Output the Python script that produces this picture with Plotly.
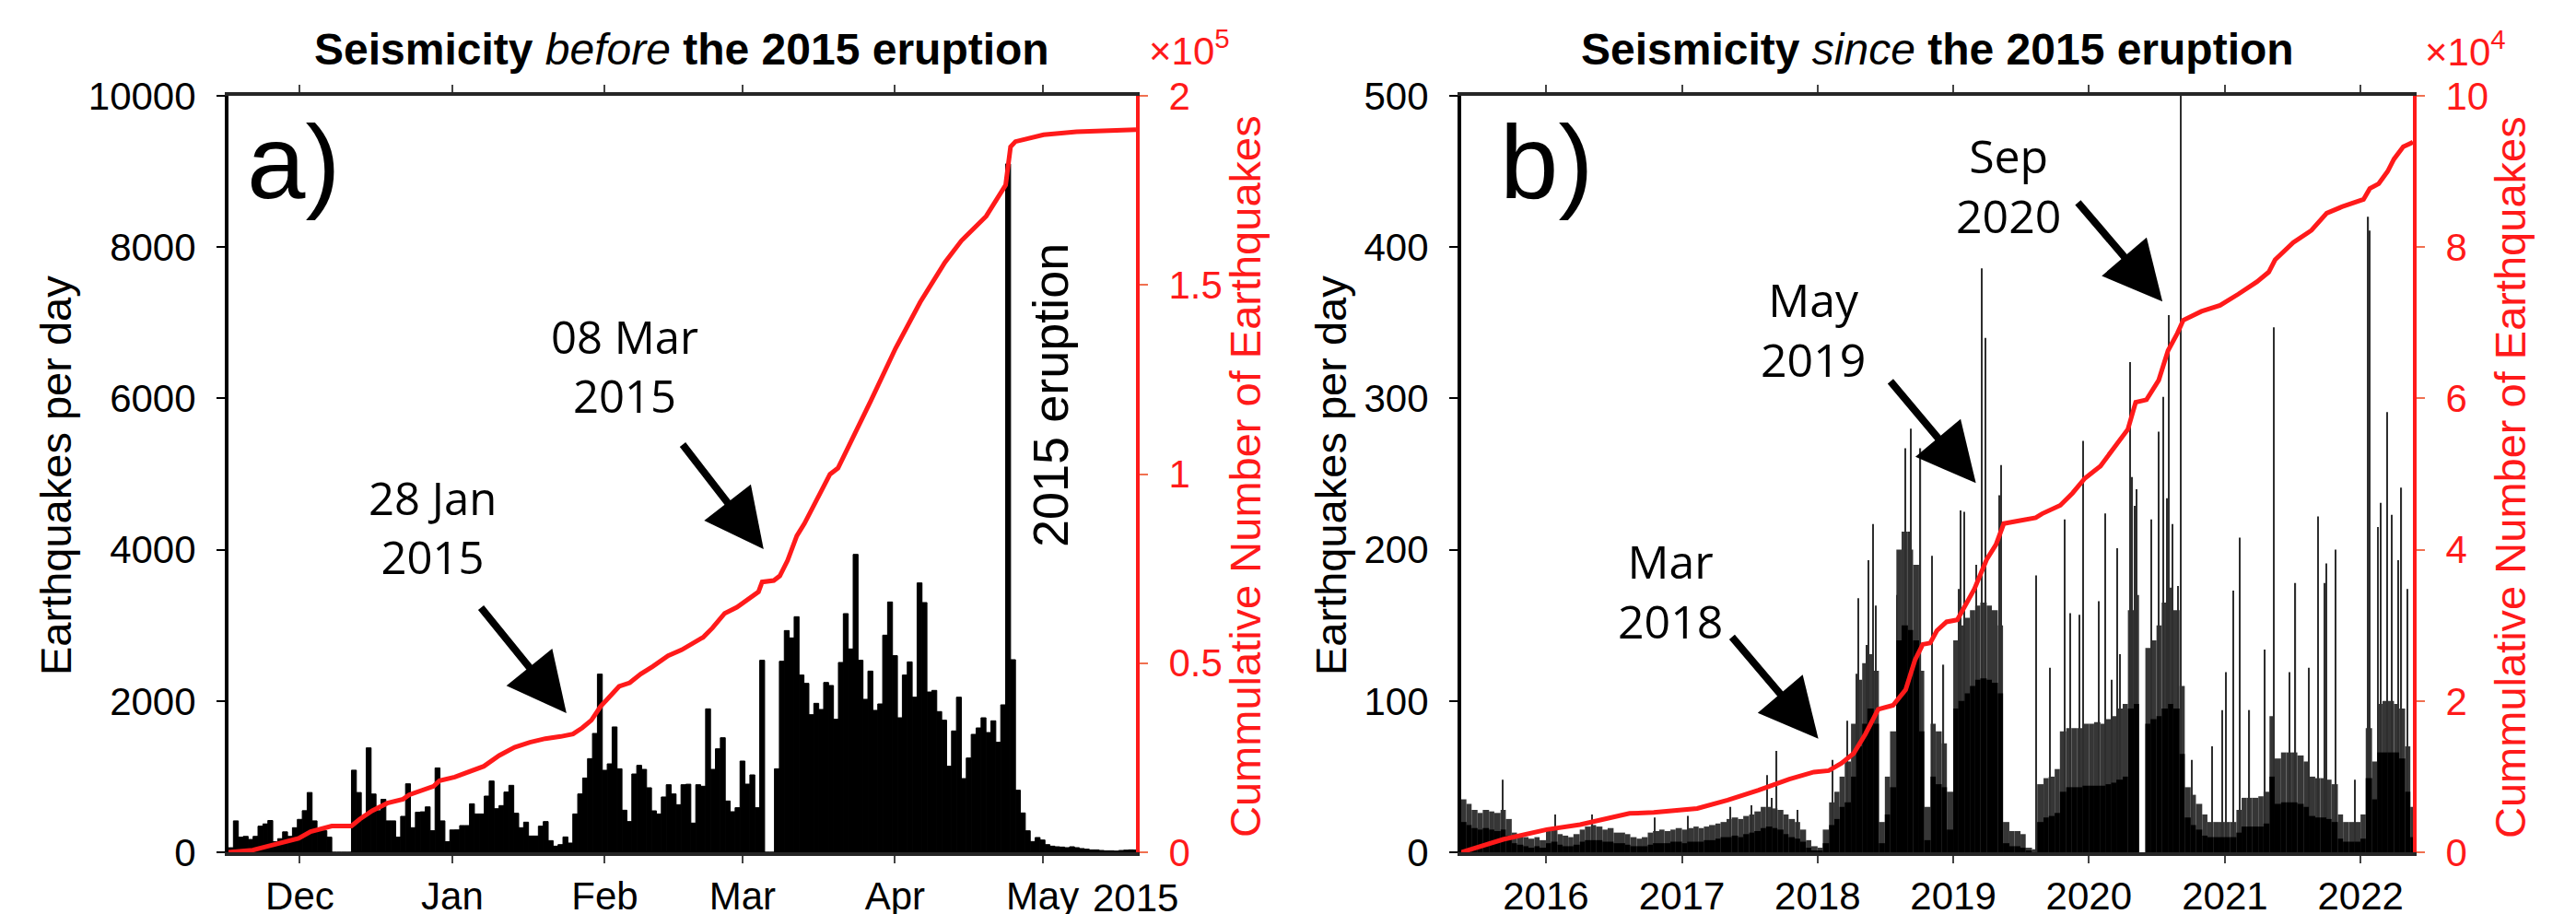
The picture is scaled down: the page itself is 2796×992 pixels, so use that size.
import plotly.graph_objects as go
import pandas as pd

W, H = 2796, 992
RED = "#ff1a1a"
ARIAL = "Liberation Sans, Arial, sans-serif"
MYRIAD = "Open Sans, sans-serif"

# ---------------- Panel a : before the 2015 eruption ----------------
a_first_day = "2014-11-17"
a_daily = [60, 415, 200, 210, 170, 210, 345, 375, 420, 140, 180, 270, 210, 325, 435, 550, 790, 415, 285, 285,
           200, 0, 0, 0, 0, 1085, 790, 470, 1380, 770, 550, 700, 415, 415, 200, 475, 905, 325, 530, 535,
           600, 285, 1115, 415, 140, 295,
           296, 353, 353, 641, 507, 507, 743, 942, 576, 617, 796, 885, 516, 325, 398, 215, 215, 345, 406, 154,
           81, 101, 203, 122, 507, 771, 982, 1238, 1571, 2355, 1084, 1169, 1657, 1104, 556, 406, 1035, 1149, 1096, 853,
           548, 507, 731, 893, 771, 629, 893,
           900, 386, 893, 873, 1896, 1096, 1368, 1514, 678, 536, 589, 1206, 901, 1023, 589, 2538, 0, 0, 1104, 2525,
           2931, 2834, 3114, 2343, 2233, 1819, 1969, 1888, 2245, 2205, 1758, 2509, 3155, 2688, 3938, 2538, 2022, 2395, 1876, 1961,
           2870, 3309, 2599, 1778, 2343, 2517,
           2050, 3561, 3301, 2119, 2140, 1860, 1746, 1137, 1604, 2050, 974, 1246, 1559, 1644, 1778, 1583, 1738, 1454, 1949, 9100,
           2546, 820, 520, 284, 142, 195, 162, 101, 81, 73, 69, 61, 73, 61, 49, 41, 32, 32, 24, 20,
           20, 16, 24, 28, 32, 30]

a_cum_dates = ["2014-11-16 12:00", "2014-11-21 10:00", "2014-11-25 02:00", "2014-11-30 18:00", "2014-12-03 05:00",
               "2014-12-07 12:00", "2014-12-11 12:00", "2014-12-13 05:00", "2014-12-15 17:00", "2014-12-18 19:00",
               "2014-12-22 00:00", "2014-12-23 05:00", "2014-12-28 05:00", "2014-12-29 10:00", "2015-01-01 12:00",
               "2015-01-04 07:00", "2015-01-07 10:00", "2015-01-10 13:00", "2015-01-13 16:00", "2015-01-16 19:00",
               "2015-01-19 22:00", "2015-01-23 01:00", "2015-01-25 13:00", "2015-01-27 10:00", "2015-01-29 07:00",
               "2015-01-31 04:00", "2015-02-02 00:00", "2015-02-03 22:00", "2015-02-06 02:00", "2015-02-08 07:00",
               "2015-02-10 18:00", "2015-02-13 21:00", "2015-02-16 15:00", "2015-02-18 12:00", "2015-02-21 00:00",
               "2015-02-22 21:00", "2015-02-25 09:00", "2015-02-27 21:00", "2015-03-01 18:00", "2015-03-04 06:00",
               "2015-03-05 00:00", "2015-03-07 09:00", "2015-03-08 14:00", "2015-03-10 04:00", "2015-03-12 01:00",
               "2015-03-13 14:00", "2015-03-18 19:00", "2015-03-20 10:00", "2015-03-27 03:00", "2015-04-01 03:00",
               "2015-04-06 03:00", "2015-04-11 04:00", "2015-04-14 12:00", "2015-04-19 13:00", "2015-04-23 12:00",
               "2015-04-24 12:00", "2015-04-25 12:00", "2015-05-01 05:00", "2015-05-07 22:00", "2015-05-20 00:00"]
a_cum_vals = [0, 570, 1790, 3650, 5440, 6950, 6950, 8770, 10960, 12990,
              14050, 15180, 17460, 18920, 19900, 21110, 22740, 25580, 27770, 29070,
              30040, 30610, 31260, 32890, 34920, 38570, 41010, 43850, 44820, 47100,
              49130, 51970, 53500, 54970, 56840, 59280, 63180, 64800, 66580, 68860,
              71460, 71860, 73080, 77140, 83640, 86890, 99950, 101580, 119440, 133250,
              145430, 155980, 161680, 168170, 176400, 186500, 187900, 189690, 190500, 191060]

a_month_ticks = ["2014-12-01", "2015-01-01", "2015-02-01", "2015-03-01", "2015-04-01", "2015-05-01"]
a_month_labels = ["Dec", "Jan", "Feb", "Mar", "Apr", "May"]

# ---------------- Panel b : since the 2015 eruption ----------------
# half-month periods starting 2015-05-15 (1st / 15th of each month)
b_first_period = "2015-05-15"
b_envelope = [35, 32, 28, 26, 28, 27, 26, 28, 22, 13, 11, 10, 9, 10, 8,
              14, 16, 12, 11, 10, 12, 15, 17, 18, 17, 15, 16, 13, 13, 12, 10, 9, 10, 13, 14, 15, 14, 15, 16,
              15, 16, 17, 16, 17, 18, 19, 20, 22, 23, 22, 24, 25, 27, 30, 30, 29, 28, 25, 22, 20, 15, 8, 4,
              3, 15, 33, 40, 50, 60, 85, 114, 125, 131, 120, 20, 50, 80, 200, 212, 200, 190, 120, 30, 85, 80, 72, 40,
              140, 150, 155, 160, 163, 165, 163, 160, 150, 20, 14, 14, 12, 3, 2, 45, 49, 50, 55, 80, 82, 82, 82, 85,
              85, 86, 85, 88, 90, 95, 98, 160, 170, 0, 135, 140, 150, 165, 175, 160, 110, 43, 38, 32, 25, 20, 20, 20,
              20, 20, 28, 36, 36, 36, 37, 40, 90, 62, 66, 66, 66, 64, 60, 50, 49, 49, 48, 45, 25, 20, 20, 20,
              25, 82, 60, 98, 100, 100, 98, 95, 70, 30]
b_core = [20, 18, 16, 15, 16, 15, 14, 15, 11, 6, 5, 4, 3, 4, 3,
          6, 7, 5, 4, 4, 5, 7, 8, 8, 8, 7, 7, 6, 6, 5, 4, 4, 4, 5, 6, 6, 6, 7, 7,
          6, 7, 7, 7, 8, 8, 9, 10, 10, 11, 10, 12, 13, 14, 16, 17, 16, 15, 12, 10, 9, 7, 3, 1,
          1, 6, 18, 22, 30, 33, 50, 70, 85, 95, 85, 6, 25, 43, 140, 150, 147, 140, 80, 8, 50, 45, 43, 15,
          95, 100, 105, 110, 114, 115, 114, 112, 105, 6, 4, 4, 3, 1, 0, 20, 23, 24, 26, 40, 43, 43, 43, 44,
          44, 44, 44, 45, 46, 48, 50, 95, 98, 0, 85, 88, 90, 95, 98, 95, 65, 23, 18, 15, 11, 10, 10, 10,
          10, 10, 13, 17, 17, 17, 17, 19, 50, 32, 33, 33, 33, 32, 30, 24, 23, 23, 22, 20, 9, 7, 7, 7,
          9, 49, 35, 66, 66, 66, 66, 62, 40, 10]

b_spike_dates = ["2015-09-07", "2016-01-26", "2016-05-04", "2016-10-19", "2017-01-17", "2017-05-12", "2017-07-06",
                 "2017-08-19", "2017-08-30", "2017-09-13", "2017-11-07", "2018-02-10", "2018-03-22", "2018-04-17",
                 "2018-04-21", "2018-05-12", "2018-05-18", "2018-05-31", "2018-06-07", "2018-08-03", "2018-08-26",
                 "2018-09-04", "2018-09-10", "2018-10-05", "2018-11-05", "2018-12-06", "2019-01-16", "2019-01-21",
                 "2019-01-30", "2019-03-04", "2019-03-19", "2019-03-28", "2019-05-05", "2019-05-09", "2019-08-12",
                 "2019-09-19", "2019-10-27", "2019-11-12", "2019-12-06", "2019-12-17", "2020-01-28", "2020-02-14",
                 "2020-03-02", "2020-03-18", "2020-03-25", "2020-04-20", "2020-04-27", "2020-05-03", "2020-05-08",
                 "2020-06-17", "2020-07-06", "2020-07-20", "2020-07-30", "2020-08-04", "2020-08-13", "2020-08-27",
                 "2020-09-05", "2020-10-04", "2020-11-28", "2020-12-24", "2021-01-03", "2021-01-23", "2021-02-10",
                 "2021-03-08", "2021-04-19", "2021-05-12", "2021-06-24", "2021-07-10", "2021-08-14", "2021-09-08",
                 "2021-09-26", "2021-10-01", "2021-10-26", "2021-12-16", "2022-01-22", "2022-01-25", "2022-02-16",
                 "2022-02-25", "2022-03-14", "2022-03-25", "2022-04-13", "2022-04-21", "2022-05-07"]
b_spike_vals = [48, 25, 25, 23, 24, 30, 31,
                51, 36, 67, 28, 61, 87, 118,
                168, 137, 193, 217, 163, 170, 267,
                212, 280, 267, 196, 124, 174, 226,
                225, 190, 386, 340, 236, 256, 183,
                122, 220, 158, 157, 272, 166, 224,
                114, 201, 131, 324, 248, 229, 240,
                220, 278, 301, 234, 355, 217, 176,
                520, 61, 70, 94, 119, 173, 208,
                94, 134, 347, 119, 178, 122, 222,
                178, 191, 200, 48, 420, 411, 215,
                231, 291, 223, 193, 241, 174]

b_cum_dates = ["2015-05-18", "2015-09-08", "2016-01-03", "2016-04-02", "2016-08-13", "2016-10-17", "2017-02-11",
               "2017-05-04", "2017-07-26", "2017-10-17", "2017-12-22", "2018-01-31", "2018-03-06", "2018-04-08",
               "2018-05-10", "2018-06-13", "2018-07-23", "2018-08-26", "2018-09-20", "2018-10-11", "2018-10-31",
               "2018-11-18", "2018-12-14", "2019-01-12", "2019-02-27", "2019-04-01", "2019-04-26", "2019-05-17",
               "2019-06-23", "2019-08-11", "2019-08-28", "2019-10-16", "2019-11-18", "2019-12-21", "2020-02-01",
               "2020-03-13", "2020-04-15", "2020-05-06", "2020-06-04", "2020-07-07", "2020-08-01", "2020-08-26",
               "2020-09-11", "2020-10-30", "2020-12-19", "2021-02-06", "2021-03-28", "2021-04-29", "2021-05-16",
               "2021-07-04", "2021-08-22", "2021-10-02", "2021-11-12", "2022-01-09", "2022-01-26", "2022-02-19",
               "2022-03-15", "2022-04-01", "2022-04-26", "2022-05-16", "2022-05-22"]
b_cum_vals = [0, 1700, 3000, 3650, 5140, 5260, 5790,
              6890, 8200, 9680, 10600, 10790, 11770, 13060,
              15660, 18900, 19430, 21500, 25400, 27480, 27670,
              29300, 30460, 30730, 34810, 38710, 40660, 43450,
              43780, 44230, 44750, 45860, 47480, 49430, 51050,
              53650, 55920, 59490, 59820, 62410, 66310, 68590,
              70340, 71510, 72290, 73780, 75410, 76700, 78320,
              80600, 82220, 84490, 85330, 86310, 87740, 88390,
              90010, 91640, 93260, 93710, 93900]

b_year_ticks = ["2016-01-01", "2017-01-01", "2018-01-01", "2019-01-01", "2020-01-01", "2021-01-01", "2022-01-01"]
b_year_labels = ["2016", "2017", "2018", "2019", "2020", "2021", "2022"]

# ---------------- build ----------------
DAY_MS = 86400000
a_days = pd.date_range(a_first_day, periods=len(a_daily), freq="D")
b_starts = pd.date_range(b_first_period, periods=len(b_envelope) + 1, freq="SMS")
b_mid = b_starts[:-1] + (b_starts[1:] - b_starts[:-1]) / 2
b_width = [(e - s).total_seconds() * 1000 for s, e in zip(b_starts[:-1], b_starts[1:])]

fig = go.Figure()
fig.add_trace(go.Bar(x=a_days, y=a_daily, width=DAY_MS, marker=dict(color="black", line=dict(width=1, color="black")),
                     xaxis="x", yaxis="y"))
fig.add_trace(go.Scatter(x=a_cum_dates, y=a_cum_vals, mode="lines", line=dict(color=RED, width=5),
                         xaxis="x", yaxis="y2"))

fig.add_trace(go.Bar(x=b_mid, y=b_envelope, width=b_width, marker=dict(color="#363636", line=dict(width=0)),
                     xaxis="x2", yaxis="y3"))
fig.add_trace(go.Bar(x=b_spike_dates, y=b_spike_vals, width=3 * DAY_MS,
                     marker=dict(color="#2e2e2e", line=dict(width=0)), xaxis="x2", yaxis="y3"))
fig.add_trace(go.Bar(x=b_mid, y=b_core, width=b_width, marker=dict(color="black", line=dict(width=0)),
                     xaxis="x2", yaxis="y3"))
fig.add_trace(go.Scatter(x=b_cum_dates, y=b_cum_vals, mode="lines", line=dict(color=RED, width=5),
                         xaxis="x2", yaxis="y4"))

ydom = [1 - 917 / H, 1 - 96 / H]
xa_dom = [240 / W, 1225 / W]
xb_dom = [1578 / W, 2611 / W]

tickfont = dict(family=ARIAL, size=42, color="black")
redfont = dict(family=ARIAL, size=42, color=RED)

def xaxis(dom, rng, tv, tt, anchor):
    return dict(domain=dom, type="date", range=rng, tickvals=tv, ticktext=tt, anchor=anchor,
                ticks="outside", ticklen=8, tickwidth=2, tickcolor="#444", showline=True, linecolor="#262626",
                linewidth=4, mirror="ticks", showgrid=False, zeroline=False, tickfont=tickfont,
                ticklabelstandoff=0, fixedrange=True)

def yleft(rng, tv, anchor):
    return dict(domain=ydom, range=rng, tickvals=tv, ticktext=[str(v) for v in tv], anchor=anchor,
                ticks="outside", ticklen=9, tickwidth=2, tickcolor="black", showline=True, linecolor="black",
                linewidth=4, showgrid=False, zeroline=False, tickfont=tickfont, ticklabelstandoff=14)

def yright(rng, tv, tt, over, anchor):
    return dict(range=rng, tickvals=tv, ticktext=tt, overlaying=over, side="right", anchor=anchor,
                ticks="outside", ticklen=9, tickwidth=2, tickcolor="#f07050", showline=True, linecolor=RED,
                linewidth=4, showgrid=False, zeroline=False, tickfont=redfont, ticklabelstandoff=14)

fig.update_layout(
    width=W, height=H, margin=dict(l=0, r=0, t=0, b=0),
    paper_bgcolor="white", plot_bgcolor="white", showlegend=False, barmode="overlay",
    template="none", hovermode=False,
    xaxis=xaxis(xa_dom, ["2014-11-16 12:00", "2015-05-20 00:00"], a_month_ticks, a_month_labels, "y"),
    yaxis=yleft([0, 10000], [0, 2000, 4000, 6000, 8000, 10000], "x"),
    yaxis2=yright([0, 200000], [0, 50000, 100000, 150000, 200000], ["0", "0.5", "1", "1.5", "2"], "y", "x"),
    xaxis2=xaxis(xb_dom, ["2015-05-18", "2022-05-22"], b_year_ticks, b_year_labels, "y3"),
    yaxis3=yleft([0, 500], [0, 100, 200, 300, 400, 500], "x2"),
    yaxis4=yright([0, 100000], [0, 20000, 40000, 60000, 80000, 100000], ["0", "2", "4", "6", "8", "10"], "y3", "x2"),
)

def px(x):
    return x / W

def py(y):
    return 1 - y / H

ann = []
def text(x, y, s, size, family=ARIAL, color="black", angle=0):
    ann.append(dict(x=px(x), y=py(y), xref="paper", yref="paper", text=s, showarrow=False,
                    font=dict(family=family, size=size, color=color), textangle=angle,
                    xanchor="center", yanchor="middle"))

text(732, 45, "<b>Seismicity </b><i>before</i><b> the 2015 eruption</b>", 48)
text(2095, 45, "<b>Seismicity </b><i>since</i><b> the 2015 eruption</b>", 48)
text(310, 168, "a)", 114)
text(1670, 168, "b)", 114)
text(52, 508, "Earthquakes per day", 47, angle=-90)
text(1436, 508, "Earthquakes per day", 47, angle=-90)
text(1344, 509, "Cummulative Number of Earthquakes", 47, color=RED, angle=-90)
text(2716, 510, "Cummulative Number of Earthquakes", 47, color=RED, angle=-90)
text(1283, 44, "×10<sup>5</sup>", 42, color=RED)
text(2668, 45, "×10<sup>4</sup>", 42, color=RED)
text(1224, 966, "2015", 42)
text(1132, 421, "2015 eruption", 54, angle=-90)
text(461, 564, "28 Jan<br>2015", 49, MYRIAD)
text(670, 389, "08 Mar<br>2015", 49, MYRIAD)
text(1805, 633, "Mar<br>2018", 50, MYRIAD)
text(1960, 349, "May<br>2019", 50, MYRIAD)
text(2172, 193, "Sep<br>2020", 50, MYRIAD)

def arrow(x, y, xr, yr, ax, ay):
    ann.append(dict(x=x, y=y, xref=xr, yref=yr, ax=ax, ay=ay, axref="pixel", ayref="pixel", text="",
                    showarrow=True, arrowhead=2, arrowsize=1.6, arrowwidth=8, arrowcolor="black", standoff=0))

arrow("2015-01-24 05:00", 1840, "x", "y", -94, -116)
arrow("2015-03-05 07:00", 4007, "x", "y", -89, -115)
arrow("2018-01-03", 75, "x2", "y3", -95, -112)
arrow("2019-03-03", 244, "x2", "y3", -94, -112)
arrow("2020-07-17", 364, "x2", "y3", -93, -109)

fig.update_layout(annotations=ann)
fig.write_html("out.html")
